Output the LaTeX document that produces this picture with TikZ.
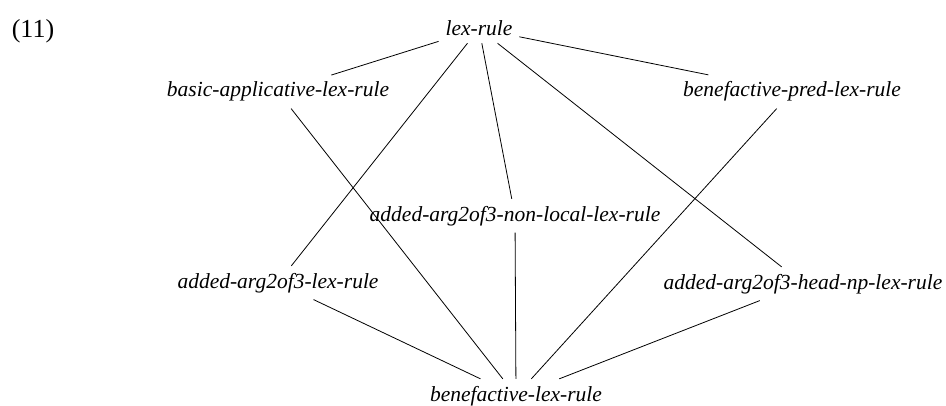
\documentclass[tikz,border=0pt]{standalone}
\usepackage{fontspec}
\setmainfont{Liberation Serif}
\usepackage{tikz}

\begin{document}
\begin{tikzpicture}[x=0.5pt,y=-0.5pt,thin,
  type node/.style={anchor=base,inner sep=3.3pt,font=\fontsize{10.75pt}{13pt}\selectfont\itshape},
  ex node/.style={anchor=base,inner sep=0pt,font=\fontsize{13pt}{15pt}\selectfont}]
  \useasboundingbox (0,0) rectangle (946,406);
  \node[ex node] (0) at (33,38) {(11)};
  \node[type node] (1) at (479,36) {lex-rule};
  \node[type node] (2) at (278,97) {basic-applicative-lex-rule};
  \node[type node] (3) at (792,97) {benefactive-pred-lex-rule};
  \node[type node] (4) at (515,221) {added-arg2of3-non-local-lex-rule};
  \node[type node] (5) at (278,288) {added-arg2of3-lex-rule};
  \node[type node] (6) at (803,289) {added-arg2of3-head-np-lex-rule};
  \node[type node] (7) at (516,401) {benefactive-lex-rule};
  \path
    (1) edge (2)
    (1) edge (3)
    (1) edge (4)
    (1) edge (5)
    (1) edge (6)
    (2) edge (7)
    (3) edge (7)
    (4) edge (7)
    (5) edge (7)
    (6) edge (7);
\end{tikzpicture}
\end{document}
